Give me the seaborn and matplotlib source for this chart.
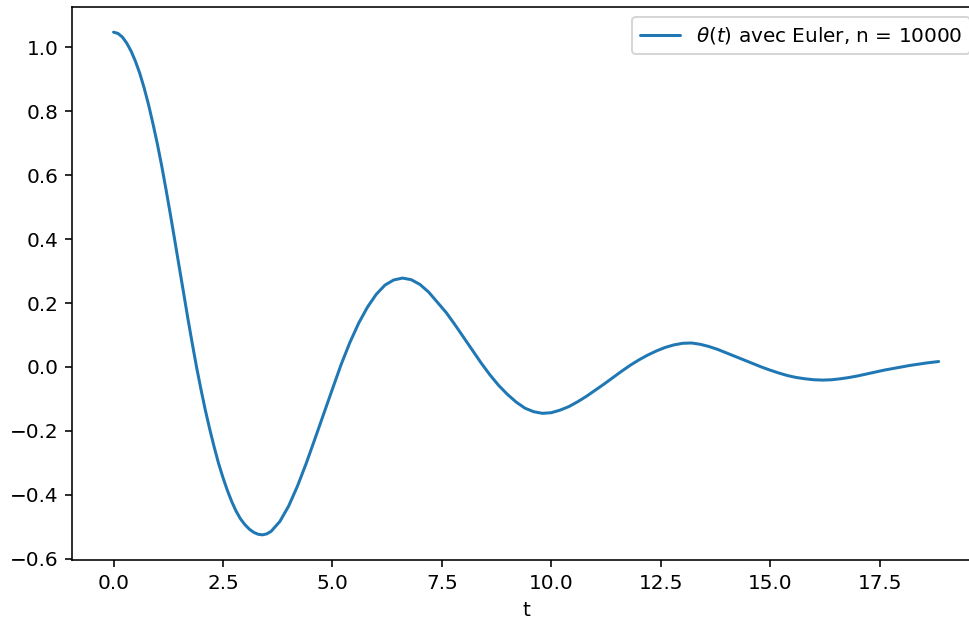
import matplotlib
matplotlib.use("Agg")
import matplotlib.pyplot as plt
import seaborn as sns
import pandas as pd

# Time samples t (s) of the damped pendulum
t_values = [
    0.0, 0.1, 0.2, 0.3, 0.4, 0.5, 0.6, 0.7, 0.8, 0.9,
    1.0, 1.1, 1.2, 1.3, 1.4, 1.5, 1.6, 1.7, 1.8, 1.9,
    2.0, 2.1, 2.2, 2.3, 2.4, 2.5, 2.6, 2.7, 2.8, 2.9,
    3.0, 3.1, 3.2, 3.3, 3.4, 3.5,
    3.6, 3.8, 4.0, 4.2, 4.4, 4.6, 4.8, 5.0, 5.2, 5.4,
    5.6, 5.8, 6.0, 6.2, 6.4, 6.6, 6.8, 7.0, 7.2, 7.4,
    7.6, 7.8, 8.0, 8.2, 8.4, 8.6, 8.8, 9.0, 9.2, 9.4,
    9.6, 9.8, 10.0, 10.2, 10.4, 10.6, 10.8, 11.0, 11.2, 11.4,
    11.6, 11.8, 12.0, 12.2, 12.4, 12.6, 12.8, 13.0, 13.2, 13.4,
    13.6, 13.8, 14.0, 14.2, 14.4, 14.6, 14.8, 15.0, 15.2, 15.4,
    15.6, 15.8, 16.0, 16.2, 16.4, 16.6, 16.8, 17.0, 17.2, 17.4,
    17.6, 17.8, 18.0, 18.2, 18.4, 18.6, 18.85,
]

# Angle theta(t) (rad)
theta_values = [
    1.047, 1.043, 1.032, 1.013, 0.988, 0.956, 0.918, 0.872, 0.820, 0.761,
    0.698, 0.629, 0.554, 0.476, 0.395, 0.313, 0.232, 0.150, 0.072, -0.003,
    -0.072, -0.137, -0.196, -0.251, -0.302, -0.346, -0.386, -0.421, -0.451, -0.475,
    -0.493, -0.507, -0.517, -0.523, -0.525, -0.522,
    -0.514, -0.483, -0.435, -0.373, -0.302, -0.225, -0.147, -0.069, 0.008, 0.077,
    0.137, 0.187, 0.227, 0.256, 0.272, 0.278, 0.273, 0.258, 0.234, 0.202,
    0.170, 0.132, 0.092, 0.052, 0.012, -0.025, -0.058, -0.086, -0.110, -0.129,
    -0.140, -0.145, -0.143, -0.135, -0.124, -0.109, -0.092, -0.073, -0.054, -0.034,
    -0.014, 0.005, 0.022, 0.037, 0.050, 0.061, 0.069, 0.074, 0.075, 0.071,
    0.064, 0.055, 0.044, 0.033, 0.022, 0.011, 0.000, -0.010, -0.019, -0.027,
    -0.033, -0.037, -0.040, -0.041, -0.040, -0.037, -0.033, -0.028, -0.022, -0.016,
    -0.010, -0.005, 0.000, 0.005, 0.009, 0.013, 0.017,
]

series_label = r"$\theta(t)$ avec Euler, n = 10000"
x_label = "t"
x_ticks = [0.0, 2.5, 5.0, 7.5, 10.0, 12.5, 15.0, 17.5]
y_ticks = [-0.6, -0.4, -0.2, 0.0, 0.2, 0.4, 0.6, 0.8, 1.0]

df = pd.DataFrame({"t": t_values, "theta": theta_values})

sns.set_style("ticks", rc={
    "axes.edgecolor": "black",
    "axes.labelcolor": "black",
    "text.color": "black",
    "xtick.color": "black",
    "ytick.color": "black",
    "axes.linewidth": 0.8,
    "xtick.major.width": 0.8,
    "ytick.major.width": 0.8,
    "xtick.major.size": 3.5,
    "ytick.major.size": 3.5,
    "axes.spines.top": True,
    "axes.spines.right": True,
})
plt.rcParams["font.family"] = ["DejaVu Sans"]
plt.rcParams["font.size"] = 10
plt.rcParams["xtick.labelsize"] = 10
plt.rcParams["ytick.labelsize"] = 10
plt.rcParams["legend.fontsize"] = 10
plt.rcParams["axes.labelsize"] = 10

dpi = 144
fig = plt.figure(figsize=(969 / dpi, 622 / dpi), dpi=dpi)
ax = fig.add_axes([0.0746, 0.0997, 0.9367, 0.889])

sns.lineplot(data=df, x="t", y="theta", ax=ax, color="#1f77b4",
             linewidth=1.5, label=series_label, sort=False)
ax.set_xlabel(x_label)
ax.set_ylabel("")
ax.set_xticks(x_ticks)
ax.set_yticks(y_ticks)
ax.legend(loc="upper right")

fig.savefig("out.png", dpi=dpi)
